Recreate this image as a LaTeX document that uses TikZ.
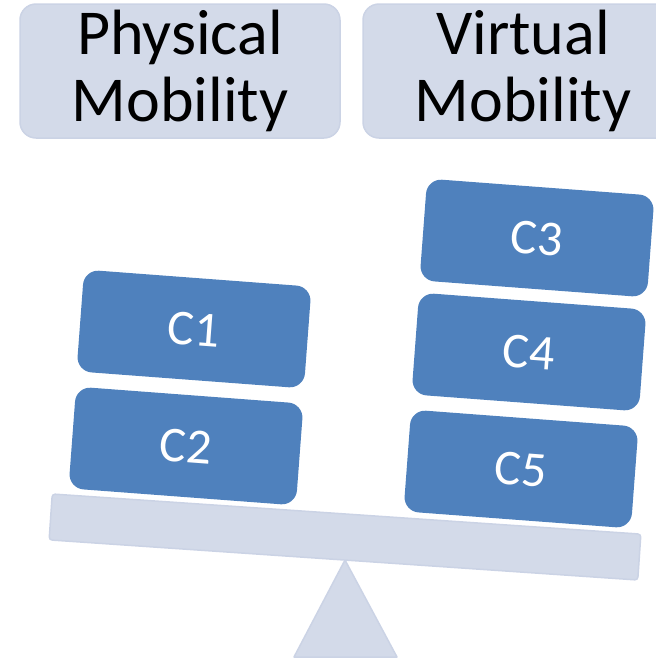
\documentclass[tikz,border=0pt]{standalone}
\usepackage{fontspec}
\setmainfont{Carlito}
\definecolor{boxblue}{RGB}{79,129,189}
\definecolor{paleblue}{RGB}{211,218,233}
\definecolor{paleedge}{RGB}{203,211,229}

\begin{document}
\begin{tikzpicture}[x=1pt, y=-1pt,
    header/.style={rectangle, rounded corners=16pt, fill=paleblue, draw=paleedge, line width=1.5pt,
        minimum width=320pt, minimum height=134pt, inner sep=0pt, align=center,
        font=\fontsize{64}{67}\selectfont},
    weight/.style={rectangle, rounded corners=15pt, fill=boxblue, minimum width=228pt,
        minimum height=102pt, inner sep=0pt, text=white, rotate=-4.3,
        font=\fontsize{50}{60}\selectfont},
    plank/.style={rectangle, rounded corners=3pt, fill=paleblue, draw=paleedge, line width=1.5pt,
        minimum width=590pt, minimum height=46pt, inner sep=0pt, rotate=-3.9},
    fulcrum/.style={fill=paleblue, draw=paleedge, line width=1.5pt, line join=round}]
    \useasboundingbox (0,0) rectangle (656,662) ;
    \clip (0,0) rectangle (656,662) ;

    \node [header] (phys) at (180,71) {Physical\\Mobility} ;
    \node [header] (virt) at (523,71) {Virtual\\Mobility} ;

    \draw [fulcrum] (345,560) -- (397,657) -- (294,657) -- cycle ;
    \node [plank] (beam) at (345,537) {} ;

    \node [weight] (c1) at (194,329) {C1} ;
    \node [weight] (c2) at (186,446) {C2} ;
    \node [weight] (c3) at (537,238) {C3} ;
    \node [weight] (c4) at (529,352) {C4} ;
    \node [weight] (c5) at (521,469) {C5} ;
\end{tikzpicture}
\end{document}
